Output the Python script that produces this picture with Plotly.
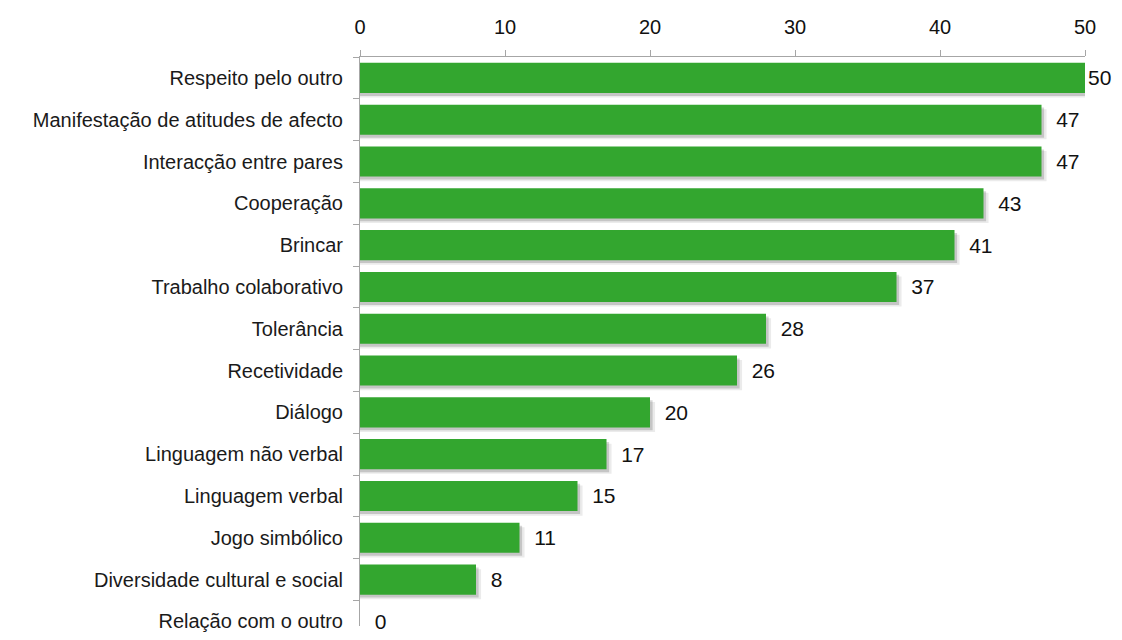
import plotly.graph_objects as go

categories = [
    "Respeito pelo outro",
    "Manifestação de atitudes de afecto",
    "Interacção entre pares",
    "Cooperação",
    "Brincar",
    "Trabalho colaborativo",
    "Tolerância",
    "Recetividade",
    "Diálogo",
    "Linguagem não verbal",
    "Linguagem verbal",
    "Jogo simbólico",
    "Diversidade cultural e social",
    "Relação com o outro",
]
values = [50, 47, 47, 43, 41, 37, 28, 26, 20, 17, 15, 11, 8, 0]
x_ticks = [0, 10, 20, 30, 40, 50]

cats = categories[::-1]
vals = values[::-1]
vmax = max(values)

font = "Liberation Sans, Arial, sans-serif"
bw = 0.72

fig = go.Figure()
# soft shadow (two layers)
for dx, dy, a in [(0.35, 0.11, 0.08), (0.18, 0.07, 0.16)]:
    fig.add_trace(go.Bar(
        y=cats, x=[v + dx if v > 0 else 0 for v in vals], orientation="h",
        width=bw, offset=-bw / 2 - dy,
        marker=dict(color=f"rgba(0,0,0,{a})", line=dict(width=0)),
        hoverinfo="skip", showlegend=False,
    ))
fig.add_trace(go.Bar(
    y=cats, x=vals, orientation="h",
    width=bw, offset=-bw / 2,
    marker=dict(color="#33A62F", line=dict(width=0)),
    text=[("" if v == vmax else "  ") + str(v) for v in vals],
    textposition="outside",
    textfont=dict(family=font, size=21, color="#111111"),
    cliponaxis=False, showlegend=False,
))

fig.update_layout(
    width=1106, height=624,
    margin=dict(l=352, r=29, t=49, b=0),
    barmode="overlay",
    plot_bgcolor="white", paper_bgcolor="white",
)
fig.update_xaxes(
    side="top", range=[0, 50], tickvals=x_ticks,
    showgrid=False, zeroline=False,
    showline=True, linecolor="#A6A6A6", linewidth=1,
    ticks="outside", ticklen=6, tickcolor="#A6A6A6",
    ticklabelstandoff=8,
    tickfont=dict(family=font, size=20, color="#111111"),
)
fig.update_yaxes(
    range=[-0.11, 13.5], showgrid=False, zeroline=False,
    showline=True, linecolor="#A6A6A6", linewidth=1,
    ticks="outside", ticklen=6, tickcolor="#A6A6A6",
    tickson="boundaries",
    ticklabelstandoff=12,
    tickfont=dict(family=font, size=20, color="#1a1a1a"),
)

fig.write_html("out.html")
